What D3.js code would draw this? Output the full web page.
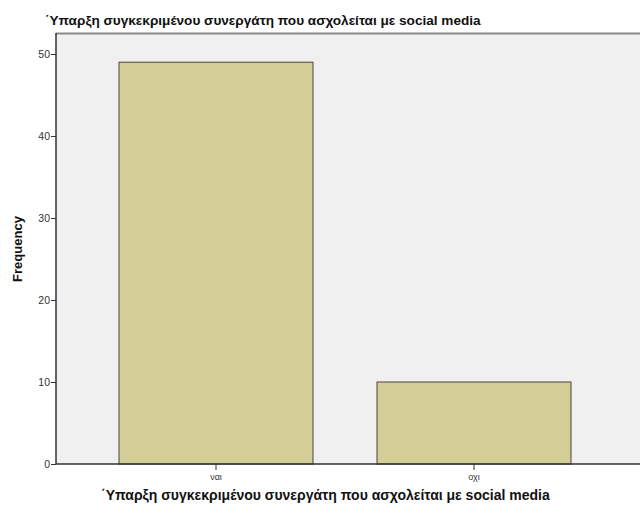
<!DOCTYPE html>
<html><head><meta charset="utf-8">
<script src="https://cdn.jsdelivr.net/npm/d3@7/dist/d3.min.js"></script>
<style>body{margin:0;background:#fff}svg{display:block}</style>
</head><body>
<script>
const categories = ["ναι", "οχι"];
const frequencies = [49, 10];
const yTicks = [0, 10, 20, 30, 40, 50];
const titleText = "΄Υπαρξη συγκεκριμένου συνεργάτη που ασχολείται με social media";
const yLabel = "Frequency";

const W = 640, H = 513;
const svg = d3.select("body").append("svg").attr("width", W).attr("height", H);

const plot = {left: 56, top: 33, right: 640, bottom: 464};
const y = d3.scaleLinear().domain([0, 52.56]).range([plot.bottom, plot.top]);
const x = d3.scaleBand().domain(categories).range([87, 603]).paddingInner(0.248).paddingOuter(0.124);

svg.append("rect").attr("x", plot.left).attr("y", plot.top)
  .attr("width", plot.right - plot.left).attr("height", plot.bottom - plot.top)
  .attr("fill", "#f0f0f0");
svg.append("line").attr("x1", plot.left).attr("x2", plot.right).attr("y1", plot.top + 0.5).attr("y2", plot.top + 0.5)
  .attr("stroke", "#8a8a8a").attr("stroke-width", 2);

svg.selectAll("rect.bar").data(categories).enter().append("rect").attr("class", "bar")
  .attr("x", d => x(d)).attr("width", x.bandwidth())
  .attr("y", (d, i) => y(frequencies[i])).attr("height", (d, i) => y(0) - y(frequencies[i]))
  .attr("fill", "#d3ce98").attr("stroke", "#4a4536").attr("stroke-width", 1);

const font = "Liberation Sans, Arial, sans-serif";
const yAxis = svg.append("g").attr("transform", `translate(${plot.left},0)`)
  .call(d3.axisLeft(y).tickValues(yTicks).tickSize(5).tickSizeOuter(0));
yAxis.select(".domain").attr("stroke", "#333").attr("stroke-width", 1.5).attr("d", `M0,${plot.top}V${plot.bottom}`);
yAxis.selectAll(".tick line").attr("stroke", "#333");
yAxis.selectAll(".tick text").attr("fill", "#333").style("font-family", font).style("font-size", "10.5px").attr("x", -6);

const xAxis = svg.append("g").attr("transform", `translate(0,${plot.bottom})`)
  .call(d3.axisBottom(x).tickSize(6).tickSizeOuter(0));
xAxis.select(".domain").attr("stroke", "#333").attr("stroke-width", 1.5).attr("d", `M${plot.left},0H${plot.right}`);
xAxis.selectAll(".tick line").attr("stroke", "#333");
xAxis.selectAll(".tick text").attr("fill", "#333").style("font-family", font).style("font-size", "9px").attr("y", 10);

svg.append("text").attr("x", 45).attr("y", 25).text(titleText)
  .style("font-family", font).style("font-weight", "bold").style("font-size", "13.6px").attr("fill", "#111");
svg.append("text").attr("x", 101).attr("y", 500).text(titleText)
  .style("font-family", font).style("font-weight", "bold").style("font-size", "14px").attr("fill", "#111");
svg.append("text").attr("transform", "translate(22,249) rotate(-90)").attr("text-anchor", "middle").text(yLabel)
  .style("font-family", font).style("font-weight", "bold").style("font-size", "13px").attr("fill", "#111");
</script>
</body></html>
